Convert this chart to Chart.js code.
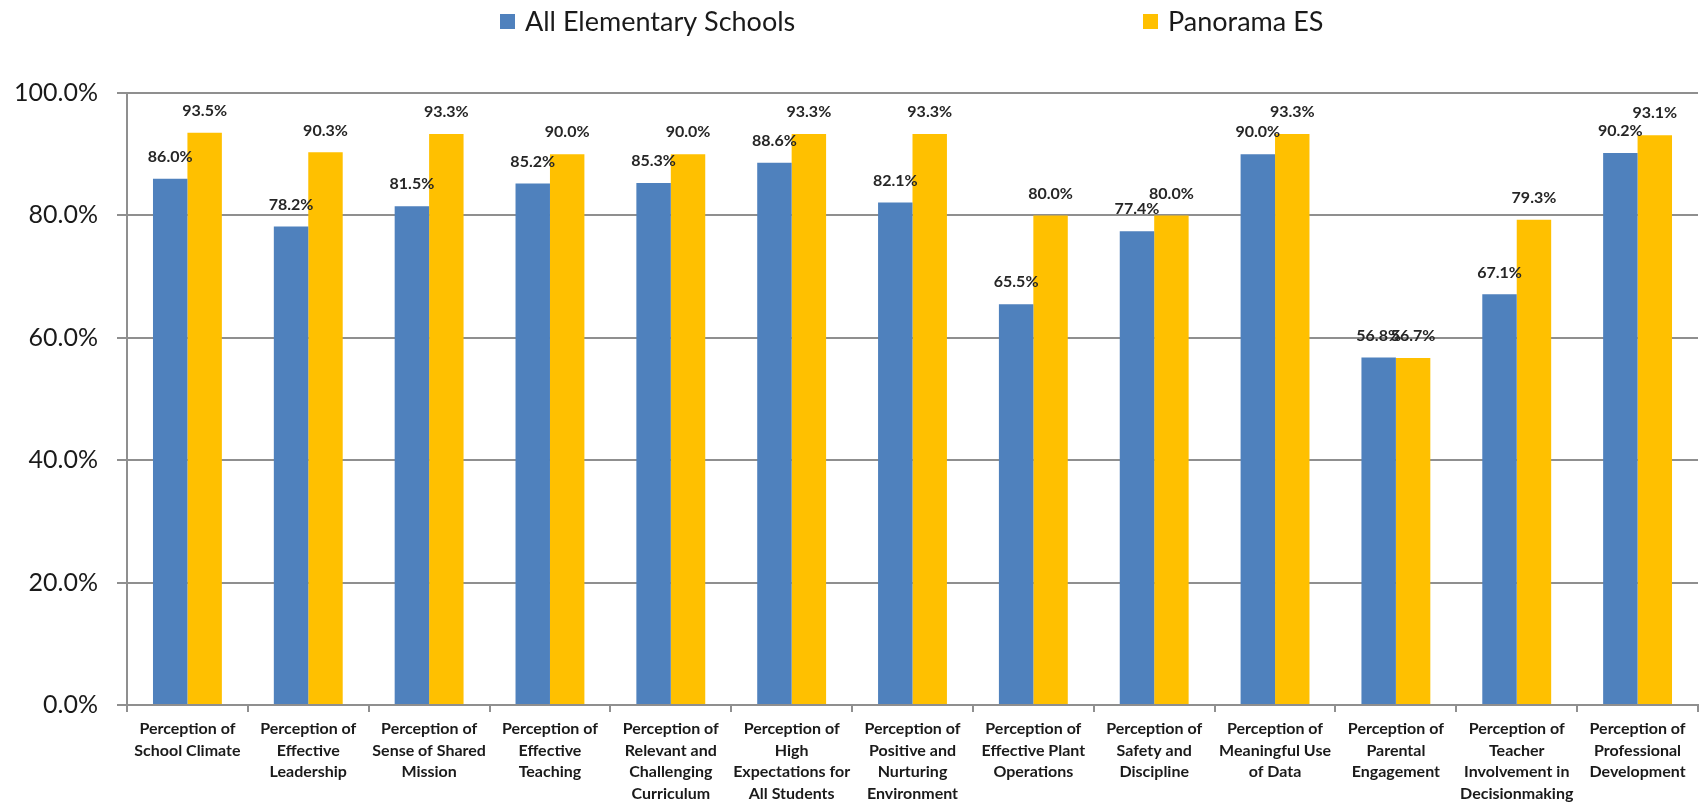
<!DOCTYPE html>
<html>
<head>
<meta charset="utf-8">
<title>Perception survey results - All Elementary Schools vs Panorama ES</title>
<script src="https://cdn.jsdelivr.net/npm/chart.js@4.4.1/dist/chart.umd.min.js"></script>
<style>
    html, body { margin: 0; padding: 0; background: #fff; overflow: hidden; }
    #wrap { width: 1701px; height: 807px; }
</style>
</head>
<body>
<div id="wrap"><canvas id="myChart" width="1701" height="807"></canvas></div>
<script>
// data
const categories = [
    ['Perception of', 'School Climate'],
    ['Perception of', 'Effective', 'Leadership'],
    ['Perception of', 'Sense of Shared', 'Mission'],
    ['Perception of', 'Effective', 'Teaching'],
    ['Perception of', 'Relevant and', 'Challenging', 'Curriculum'],
    ['Perception of', 'High', 'Expectations for', 'All Students'],
    ['Perception of', 'Positive and', 'Nurturing', 'Environment'],
    ['Perception of', 'Effective Plant', 'Operations'],
    ['Perception of', 'Safety and', 'Discipline'],
    ['Perception of', 'Meaningful Use', 'of Data'],
    ['Perception of', 'Parental', 'Engagement'],
    ['Perception of', 'Teacher', 'Involvement in', 'Decisionmaking'],
    ['Perception of', 'Professional', 'Development']
];
const allElementary = [86.0, 78.2, 81.5, 85.2, 85.3, 88.6, 82.1, 65.5, 77.4, 90.0, 56.8, 67.1, 90.2];
const panoramaES = [93.5, 90.3, 93.3, 90.0, 90.0, 93.3, 93.3, 80.0, 80.0, 93.3, 56.7, 79.3, 93.1];
const seriesNames = ['All Elementary Schools', 'Panorama ES'];
const yTicks = [0, 20, 40, 60, 80, 100];

const blue = '#4F81BD';
const gold = '#FFC000';
const gridGray = '#8f8f8f';
const textColor = '#1a1a1a';

// legend drawn by hand, the two entries sit far apart like in the original
const legendX = [500, 1143];
const legendY = 21;
const topLegend = {
    id: 'topLegend',
    afterDraw(chart) {
        const ctx = chart.ctx;
        ctx.save();
        ctx.font = '27px Lato';
        ctx.textBaseline = 'middle';
        ctx.textAlign = 'left';
        chart.data.datasets.forEach((ds, i) => {
            ctx.fillStyle = ds.backgroundColor;
            ctx.fillRect(legendX[i], legendY - 7, 15, 15);
            ctx.fillStyle = textColor;
            ctx.fillText(ds.label, legendX[i] + 25, legendY + 1);
        });
        ctx.restore();
    }
};

// value labels above every bar
const valueLabels = {
    id: 'valueLabels',
    afterDatasetsDraw(chart) {
        const ctx = chart.ctx;
        ctx.save();
        ctx.font = 'bold 16px Lato';
        ctx.fillStyle = '#262626';
        ctx.textAlign = 'center';
        ctx.textBaseline = 'middle';
        chart.data.datasets.forEach((ds, i) => {
            chart.getDatasetMeta(i).data.forEach((bar, j) => {
                ctx.fillText(ds.data[j].toFixed(1) + '%', bar.x, bar.y - 22);
            });
        });
        ctx.restore();
    }
};

const ctx = document.getElementById('myChart').getContext('2d');
const myChart = new Chart(ctx, {
    type: 'bar',
    data: {
        labels: categories,
        datasets: [{
            label: seriesNames[0],
            data: allElementary,
            backgroundColor: blue,
            borderWidth: 0
        }, {
            label: seriesNames[1],
            data: panoramaES,
            backgroundColor: gold,
            borderWidth: 0
        }]
    },
    options: {
        responsive: false,
        animation: false,
        devicePixelRatio: 1,
        categoryPercentage: 0.57,
        barPercentage: 1.0,
        layout: {
            padding: {top: 93, right: 3, left: 0, bottom: 0}
        },
        plugins: {
            legend: {display: false},
            tooltip: {enabled: false}
        },
        scales: {
            x: {
                grid: {
                    drawOnChartArea: false,
                    drawTicks: true,
                    tickLength: 7,
                    color: gridGray,
                    lineWidth: 2
                },
                border: {display: true, color: gridGray, width: 2},
                ticks: {
                    color: textColor,
                    font: {family: 'Lato', size: 16, weight: 'bold', lineHeight: 1.35},
                    padding: 6,
                    maxRotation: 0,
                    autoSkip: false
                },
                afterFit: scale => { scale.height = 102; }
            },
            y: {
                min: 0,
                max: 100,
                grid: {color: gridGray, lineWidth: 2, tickLength: 10},
                border: {display: true, color: gridGray, width: 2},
                ticks: {
                    color: textColor,
                    font: {family: 'Lato', size: 25},
                    padding: 19,
                    callback: v => v.toFixed(1) + '%'
                },
                afterBuildTicks: scale => { scale.ticks = yTicks.map(v => ({value: v})); },
                afterFit: scale => { scale.width = 127; }
            }
        }
    },
    plugins: [topLegend, valueLabels]
});
</script>
</body>
</html>
